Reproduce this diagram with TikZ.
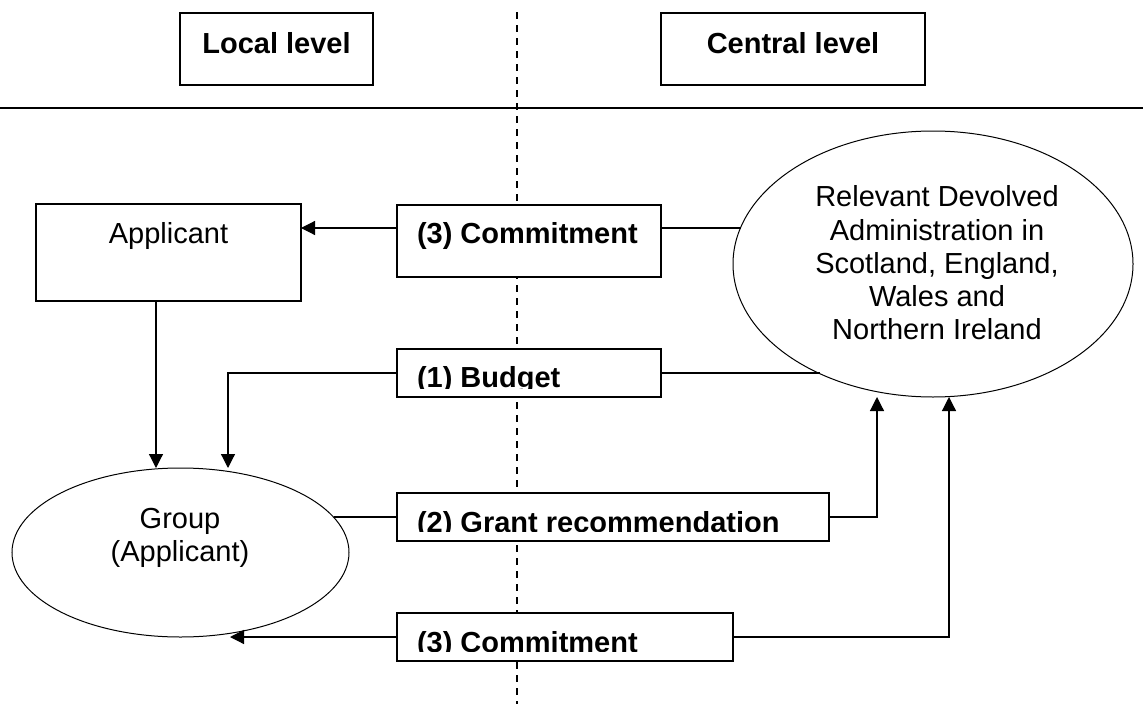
\documentclass[tikz,border=0pt]{standalone}
\usepackage{fontspec}
\setmainfont{Liberation Sans}
\usetikzlibrary{arrows.meta,shapes.geometric}
\begin{document}
\begin{tikzpicture}[x=1pt,y=-1pt,
  every node/.style={font=\fontsize{29}{33.3}\selectfont, inner sep=0pt, outer sep=0pt},
  frame/.style={draw, rectangle, line width=1.2pt, fill=white, inner sep=0pt},
  hdr/.style={frame, font=\fontsize{29}{33.3}\selectfont\bfseries,
              text height=40pt, text depth=32pt, anchor=north},
  labelbox/.style={frame, anchor=north west},
  oval/.style={draw, ellipse, line width=1pt, fill=white, inner sep=0pt},
  lbl/.style={font=\fontsize{29}{33.3}\selectfont\bfseries, anchor=base west},
  link/.style={line width=1.2pt},
  arr/.style={link, -{Triangle[length=14pt,width=14pt]}},
  divider/.style={line width=1.5pt, dash pattern=on 7pt off 6pt},
]
\useasboundingbox (0,0) rectangle (1143,704);

% level divider and header rule
\draw[divider] (517,12) -- (517,704);
\draw[line width=1.5pt] (0,108) -- (1143,108);

% headers
\node[hdr, minimum width=193pt] (localhdr) at (276.5,13) {Local level};
\node[hdr, minimum width=264pt] (centralhdr) at (793,13) {Central level};

% actors
\node[frame, text height=39pt, text depth=58pt, minimum width=265pt, anchor=north]
  (applicant) at (168.5,204) {Applicant};
\node[oval, minimum width=400pt, minimum height=266pt] (devolved) at (933,264) {};
\node[align=center] (devolvedtxt) at (937,263)
  {Relevant Devolved\\Administration in\\Scotland, England,\\Wales and\\Northern Ireland};
\node[oval, minimum width=337pt, minimum height=169pt] (group) at (180.5,552.5) {};
\node[align=center] (grouptxt) at (180,538) {Group\\(Applicant)};

% step boxes
\node[labelbox, minimum width=264pt, minimum height=72pt] (commitA) at (397,205) {};
\node[labelbox, minimum width=264pt, minimum height=48pt] (budget) at (397,349) {};
\node[labelbox, minimum width=432pt, minimum height=48pt] (grant) at (397,493) {};
\node[labelbox, minimum width=336pt, minimum height=48pt] (commitB) at (397,613) {};

\begin{scope}
  \clip (commitA.north west) rectangle ([yshift=9pt]commitA.south east);
  \node[lbl] (commitAtxt) at (417,243) {(3) Commitment};
\end{scope}
\begin{scope}
  \clip (budget.north west) rectangle ([yshift=8.5pt]budget.south east);
  \node[lbl] (budgettxt) at (417,387) {(1) Budget};
\end{scope}
\begin{scope}
  \clip (grant.north west) rectangle ([yshift=9.5pt]grant.south east);
  \node[lbl] (granttxt) at (417,532) {(2) Grant recommendation};
\end{scope}
\begin{scope}
  \clip (commitB.north west) rectangle ([yshift=10pt]commitB.south east);
  \node[lbl] (commitBtxt) at (417,652) {(3) Commitment};
\end{scope}

% routing helpers
\coordinate (rowA) at (0,228);
\coordinate (colA) at (156,0);
\coordinate (colB) at (228,0);
\coordinate (colC) at (877,0);
\coordinate (colD) at (949,0);
\coordinate (colE) at (230,0);

% connectors
\draw[arr] (commitA.west |- rowA) -- (applicant.east |- rowA);
\draw[link] (commitA.east |- rowA) -- (devolved.169.7 |- rowA);
\draw[link] (budget.east) -- (devolved.224 |- budget.east);
\draw[arr] (budget.west) -| (colB |- group.north);
\draw[arr] (applicant.south -| colA) -- (group.north -| colA);
\draw[link] (group.13.06 |- grant.west) -- (grant.west);
\draw[arr] (grant.east) -| (colC |- devolved.south);
\draw[arr] (commitB.west) -- (colE |- group.south);
\draw[arr] (commitB.east) -| (colD |- devolved.south);
\end{tikzpicture}
\end{document}
